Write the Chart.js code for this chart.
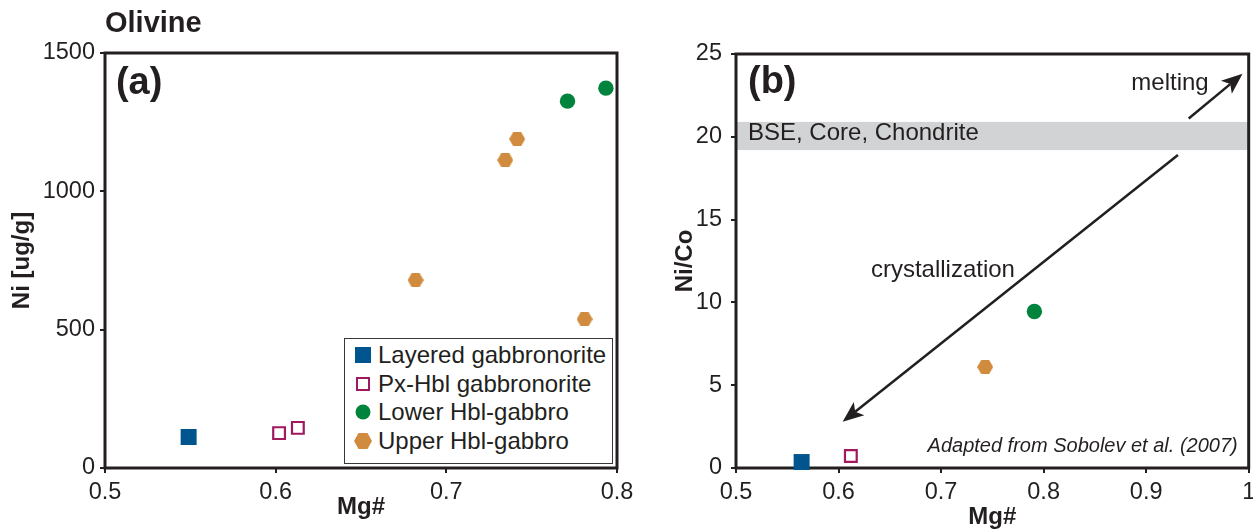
<!DOCTYPE html>
<html>
<head>
<meta charset="utf-8">
<title>Olivine – Ni and Ni/Co vs Mg#</title>
<script src="https://cdn.jsdelivr.net/npm/chart.js@4.4.1/dist/chart.umd.min.js"></script>
<style>
  html, body { margin: 0; padding: 0; background: #fff; overflow: hidden; }
  body { width: 1253px; height: 529px; position: relative; font-family: "Liberation Sans", Arial, sans-serif; color: #231f20; }
  #chartA { position: absolute; left: 0; top: 0; }
  #chartB { position: absolute; left: 640px; top: 0; }
  #legend { position: absolute; left: 344px; top: 338px; width: 269px; height: 126px; box-sizing: border-box;
            border: 1px solid #3a3637; background: #fff; }
  #legend .row { position: absolute; left: 0; height: 28px; line-height: 28px; font-size: 24px; white-space: nowrap; }
  #legend .mark { position: absolute; top: 50%; transform: translate(-50%, -50%); box-sizing: border-box; }
  #legend .txt { position: absolute; left: 33px; top: 0; }
</style>
</head>
<body>
<canvas id="chartA" width="660" height="529"></canvas>
<canvas id="chartB" width="620" height="529"></canvas>
<div id="legend"></div>
<script>
// ---- panel (a): Mg# vs Ni in olivine ----
const layeredMgA = [0.549];
const layeredNiA = [112];
const pxHblMgA = [0.602, 0.613];
const pxHblNiA = [126, 145];
const lowerMgA = [0.771, 0.7935];
const lowerNiA = [1326, 1373];
const upperMgA = [0.7345, 0.7415, 0.682, 0.781];
const upperNiA = [1113, 1189, 679, 538];

// ---- panel (b): Mg# vs Ni/Co ----
const layeredMgB = [0.564];
const layeredNiCoB = [0.36];
const pxHblMgB = [0.612];
const pxHblNiCoB = [0.73];
const lowerMgB = [0.791];
const lowerNiCoB = [9.45];
const upperMgB = [0.743];
const upperNiCoB = [6.1];

// axis ticks
const xTicksA = [0.5, 0.6, 0.7, 0.8];
const yTicksA = [0, 500, 1000, 1500];
const xTicksB = [0.5, 0.6, 0.7, 0.8, 0.9, 1];
const yTicksB = [0, 5, 10, 15, 20, 25];

// BSE / core / chondrite Ni/Co range and the melting / crystallization trends
const bseBand = [19.2, 20.9];
const meltFrom = [0.9415, 21.1];
const meltTo = [0.994, 23.8];
const crystFrom = [0.931, 18.9];
const crystTo = [0.604, 2.8];

const seriesNames = ['Layered gabbronorite', 'Px-Hbl gabbronorite', 'Lower Hbl-gabbro', 'Upper Hbl-gabbro'];
const seriesColors = ['#00558f', '#a0195e', '#00843d', '#d08b3e'];

const ink = '#231f20';
const FONT = '"Liberation Sans", Arial, sans-serif';

// hexagon marker (flat top and bottom) used for the upper Hbl-gabbro
function hexagon(w, h, color) {
  const c = document.createElement('canvas');
  c.width = w;
  c.height = h;
  const g = c.getContext('2d');
  g.fillStyle = color;
  g.beginPath();
  g.moveTo(0, h / 2);
  g.lineTo(w / 4, 0);
  g.lineTo(3 * w / 4, 0);
  g.lineTo(w, h / 2);
  g.lineTo(3 * w / 4, h);
  g.lineTo(w / 4, h);
  g.closePath();
  g.fill();
  return c;
}
const hex = hexagon(16, 14, seriesColors[3]);

const pts = (xs, ys) => xs.map((x, i) => ({ x: x, y: ys[i] }));

const markerStyles = [
  { pointStyle: 'rect', pointRadius: 11.3, backgroundColor: seriesColors[0], borderWidth: 0 },
  { pointStyle: 'rect', pointRadius: 8.3, backgroundColor: '#fff', borderColor: seriesColors[1], borderWidth: 2.2 },
  { pointStyle: 'circle', pointRadius: 7.7, backgroundColor: seriesColors[2], borderWidth: 0 },
  { pointStyle: hex, pointRadius: 8, backgroundColor: seriesColors[3], borderWidth: 0 }
];

function makeDatasets(pairs) {
  return pairs.map((p, i) => Object.assign({
    label: seriesNames[i],
    data: pts(p[0], p[1]),
    showLine: false,
    clip: false,
    pointHoverRadius: markerStyles[i].pointRadius
  }, markerStyles[i]));
}

// ===============================
// Scale helpers
// ===============================
function xAxis(ticks, titlePad) {
  return {
    type: 'linear',
    position: 'bottom',
    min: ticks[0],
    max: ticks[ticks.length - 1],
    afterBuildTicks: s => { s.ticks = ticks.map(v => ({ value: v })); },
    afterFit: s => { s.height = 61; s.paddingLeft = 0; s.paddingRight = 0; },
    grid: { drawOnChartArea: false, tickLength: 5, lineWidth: 2, color: ink },
    border: { display: false },
    ticks: {
      color: ink, padding: 5, maxRotation: 0, autoSkip: false,
      font: { family: FONT, size: 23.5 },
      callback: v => String(Math.round(v * 10) / 10)
    },
    title: {
      display: true, text: 'Mg#', color: ink,
      font: { family: FONT, size: 24, weight: 'bold', lineHeight: 1 },
      padding: { top: 0, bottom: titlePad }
    }
  };
}

function yAxis(ticks, title, width, tickPad, titlePad) {
  return {
    type: 'linear',
    min: ticks[0],
    max: ticks[ticks.length - 1],
    afterBuildTicks: s => { s.ticks = ticks.map(v => ({ value: v })); },
    afterFit: s => { s.width = width; s.paddingTop = 0; s.paddingBottom = 0; },
    grid: { drawOnChartArea: false, tickLength: 5, lineWidth: 2, color: ink },
    border: { display: false },
    ticks: {
      color: ink, padding: tickPad, font: { family: FONT, size: 23.5 },
      callback: v => String(v)
    },
    title: {
      display: true, text: title, color: ink,
      font: { family: FONT, size: 24, weight: 'bold', lineHeight: 1 },
      padding: { top: titlePad, bottom: 0 }
    }
  };
}

// frame around the plot area (drawn under the markers)
const framePlugin = {
  id: 'frame',
  beforeDatasetsDraw(chart) {
    const { ctx, chartArea: a } = chart;
    ctx.save();
    ctx.strokeStyle = ink;
    ctx.lineWidth = 3;
    ctx.strokeRect(a.left, a.top, a.right - a.left, a.bottom - a.top);
    ctx.restore();
  }
};

function textAt(chart, text, xv, yv, font, align) {
  const { ctx, scales: { x, y } } = chart;
  ctx.save();
  ctx.font = font;
  ctx.fillStyle = ink;
  ctx.textAlign = align;
  ctx.textBaseline = 'middle';
  ctx.fillText(text, x.getPixelForValue(xv), y.getPixelForValue(yv));
  ctx.restore();
}

function arrow(chart, from, to) {
  const { ctx, scales: { x, y } } = chart;
  const x0 = x.getPixelForValue(from[0]), y0 = y.getPixelForValue(from[1]);
  const x1 = x.getPixelForValue(to[0]), y1 = y.getPixelForValue(to[1]);
  const ang = Math.atan2(y1 - y0, x1 - x0);
  const len = 21, half = 8.5, notch = 5;
  ctx.save();
  ctx.strokeStyle = ink;
  ctx.fillStyle = ink;
  ctx.lineWidth = 2.5;
  ctx.beginPath();
  ctx.moveTo(x0, y0);
  ctx.lineTo(x1 - Math.cos(ang) * (len - notch), y1 - Math.sin(ang) * (len - notch));
  ctx.stroke();
  ctx.translate(x1, y1);
  ctx.rotate(ang);
  ctx.beginPath();
  ctx.moveTo(0, 0);
  ctx.lineTo(-len, -half);
  ctx.lineTo(-len + notch, 0);
  ctx.lineTo(-len, half);
  ctx.closePath();
  ctx.fill();
  ctx.restore();
}

// ===============================
// Panel (a)
// ===============================
new Chart(document.getElementById('chartA'), {
  type: 'scatter',
  data: {
    datasets: makeDatasets([
      [layeredMgA, layeredNiA],
      [pxHblMgA, pxHblNiA],
      [lowerMgA, lowerNiA],
      [upperMgA, upperNiA]
    ])
  },
  options: {
    responsive: false,
    animation: false,
    layout: { padding: { left: 0, right: 43, top: 0, bottom: 0 } },
    plugins: {
      legend: { display: false },
      tooltip: { enabled: false },
      title: {
        display: true, text: 'Olivine', align: 'start', fullSize: false, color: ink,
        font: { family: FONT, size: 29, weight: 'bold', lineHeight: 1.2 },
        padding: { top: 6.6, bottom: 11.6 }
      }
    },
    scales: {
      x: xAxis(xTicksA, 9.5),
      y: yAxis(yTicksA, 'Ni [ug/g]', 105, 5, 10)
    }
  },
  plugins: [framePlugin, {
    id: 'panelLetterA',
    afterDatasetsDraw(chart) {
      textAt(chart, '(a)', 0.5064, 1390, 'bold 38px ' + FONT, 'left');
    }
  }]
});

// ===============================
// Panel (b)
// ===============================
new Chart(document.getElementById('chartB'), {
  type: 'scatter',
  data: {
    datasets: makeDatasets([
      [layeredMgB, layeredNiCoB],
      [pxHblMgB, pxHblNiCoB],
      [lowerMgB, lowerNiCoB],
      [upperMgB, upperNiCoB]
    ])
  },
  options: {
    responsive: false,
    animation: false,
    layout: { padding: { left: 0, right: 11, top: 54, bottom: 0 } },
    plugins: {
      legend: { display: false },
      tooltip: { enabled: false }
    },
    scales: {
      x: xAxis(xTicksB, 0),
      y: yAxis(yTicksB, 'Ni/Co', 96, 9, 33)
    }
  },
  plugins: [{
    id: 'bseBand',
    beforeDatasetsDraw(chart) {
      const { ctx, chartArea: a, scales: { y } } = chart;
      const top = y.getPixelForValue(bseBand[1]);
      const bottom = y.getPixelForValue(bseBand[0]);
      ctx.save();
      ctx.fillStyle = '#d1d3d4';
      ctx.fillRect(a.left, top, a.right - a.left, bottom - top);
      ctx.restore();
    }
  }, framePlugin, {
    id: 'notesB',
    afterDatasetsDraw(chart) {
      const f = '24px ' + FONT;
      textAt(chart, '(b)', 0.5117, 23.3, 'bold 38px ' + FONT, 'left');
      textAt(chart, 'BSE, Core, Chondrite', 0.5117, 20.2, f, 'left');
      textAt(chart, 'melting', 0.961, 23.2, f, 'right');
      textAt(chart, 'crystallization', 0.7018, 11.92, f, 'center');
      textAt(chart, 'Adapted from Sobolev et al. (2007)', 0.9893, 1.29, 'italic 20px ' + FONT, 'right');
      arrow(chart, meltFrom, meltTo);
      arrow(chart, crystFrom, crystTo);
    }
  }]
});

// ===============================
// Legend (panel a)
// ===============================
const legendBox = document.getElementById('legend');
const markCss = [
  'width:16px;height:16px;background:' + seriesColors[0],
  'width:14px;height:14px;border:2px solid ' + seriesColors[1] + ';background:#fff',
  'width:15px;height:15px;border-radius:50%;background:' + seriesColors[2],
  'width:18px;height:16px;background:' + seriesColors[3] + ';clip-path:polygon(0 50%,25% 0,75% 0,100% 50%,75% 100%,25% 100%)'
];
seriesNames.forEach((name, i) => {
  const row = document.createElement('div');
  row.className = 'row';
  row.style.top = (2 + i * 28.7) + 'px';
  const mark = document.createElement('span');
  mark.className = 'mark';
  mark.style.cssText = markCss[i];
  mark.style.left = '18px';
  const txt = document.createElement('span');
  txt.className = 'txt';
  txt.textContent = name;
  row.appendChild(mark);
  row.appendChild(txt);
  legendBox.appendChild(row);
});
</script>
</body>
</html>
